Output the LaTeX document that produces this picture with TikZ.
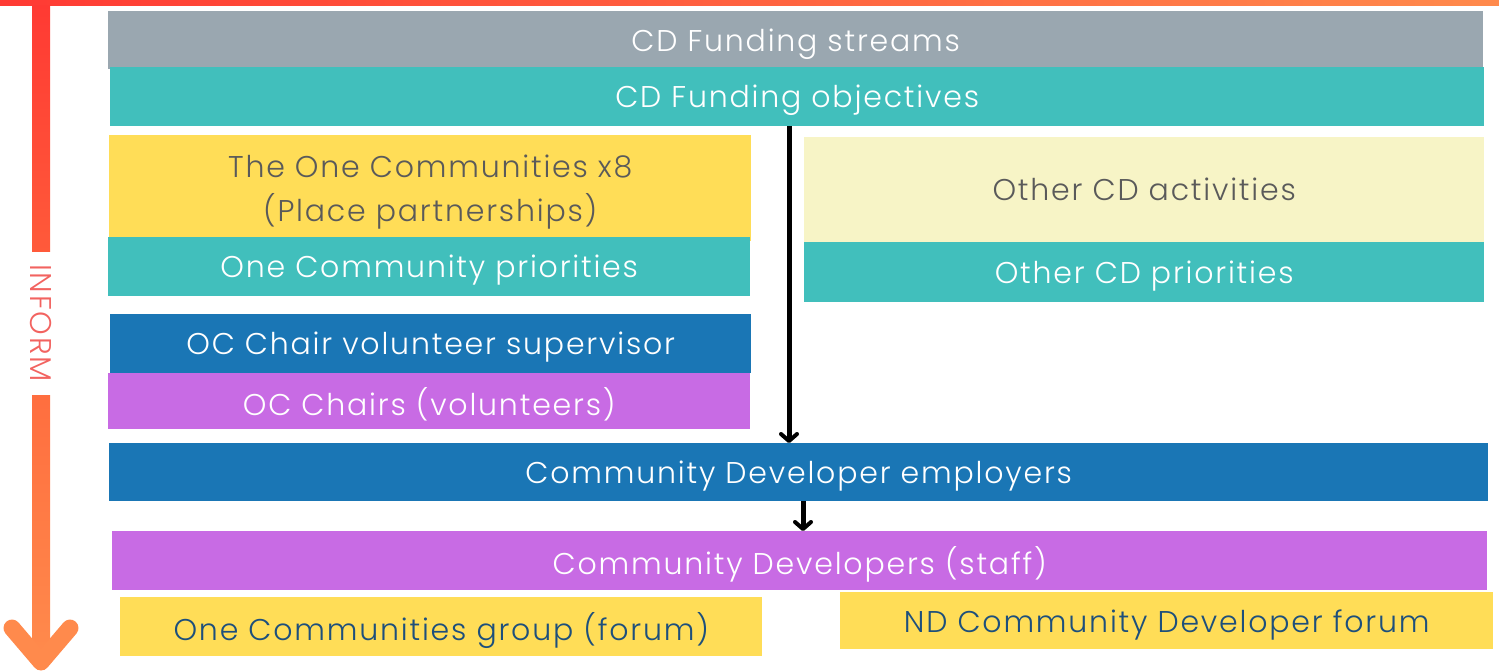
\documentclass[tikz,border=0pt]{standalone}
\usepackage{fontspec}
\newfontfamily\quick{Poppins Light}[LetterSpace=6]
\usetikzlibrary{arrows.meta,positioning}
\definecolor{bandgray}{HTML}{9AA7B0}
\definecolor{bandteal}{HTML}{41BFBC}
\definecolor{bandyellow}{HTML}{FFDD57}
\definecolor{bandpale}{HTML}{F7F4C6}
\definecolor{bandblue}{HTML}{1A76B5}
\definecolor{bandpurple}{HTML}{C86BE4}
\definecolor{txtgray}{HTML}{5A5A5A}
\definecolor{txtblue}{HTML}{1D4F7C}
\definecolor{informred}{HTML}{FF3A33}
\definecolor{informmid}{HTML}{FF5A3A}
\definecolor{informlow}{HTML}{FF6E3F}
\definecolor{informorange}{HTML}{FF8A4C}
\definecolor{informtext}{HTML}{F26360}
\tikzset{
  band/.style={anchor=north west,inner sep=0pt,align=center,font=\quick\fontsize{30}{40}\selectfont,text=white,text depth=0pt},
  flow/.style={line width=5pt,-{Straight Barb[round,length=7pt,width=16pt,line width=4pt]}}
}
\begin{document}
\begin{tikzpicture}[x=1pt,y=-1pt]
    \useasboundingbox (0,0) rectangle (1499,670);
    % inform bar
    \shade[left color=informred,right color=informorange] (0,0) rectangle (1499,5);
    \shade[top color=informred,bottom color=informmid] (32,5) rectangle (50,251);
    \shade[top color=informlow,bottom color=informorange] (32,395) rectangle (50,655);
    \draw[informorange,line width=17pt,line cap=round,line join=round] (12,628) -- (41,662) -- (70,628);
    \node[rotate=-90,text=informtext,inner sep=0pt,font=\quick\fontsize{30}{30}\selectfont] (inform) at (41,323) {INFORM};
    % funding
    \node[band,fill=bandgray,minimum width=1375pt,minimum height=58pt] (streams) at (108,11) {CD Funding streams};
    \node[band,fill=bandteal,minimum width=1374pt,minimum height=59pt] (objectives) at (110,67) {CD Funding objectives};
    % one communities
    \node[band,fill=bandyellow,text=txtgray,minimum width=642pt,minimum height=106pt] (places) at (109,135) {The One Communities x8\\[4pt](Place partnerships)};
    \node[band,fill=bandteal,minimum width=642pt,minimum height=59pt] (ocprio) at (108,237) {One Community priorities};
    \node[band,fill=bandblue,minimum width=641pt,minimum height=59pt] (supervisor) at (110,314) {OC Chair volunteer supervisor};
    \node[band,fill=bandpurple,minimum width=642pt,minimum height=56pt] (chairs) at (108,373) {OC Chairs (volunteers)};
    % other activities
    \node[band,fill=bandpale,text=txtgray,minimum width=680pt,minimum height=105pt] (other) at (804,137) {Other CD activities};
    \node[band,fill=bandteal,minimum width=680pt,minimum height=60pt] (otherprio) at (804,242) {Other CD priorities};
    % developers
    \node[band,fill=bandblue,minimum width=1379pt,minimum height=58pt] (employers) at (109,443) {Community Developer employers};
    \node[band,fill=bandpurple,minimum width=1375pt,minimum height=59pt] (developers) at (112,531) {Community Developers (staff)};
    \node[band,fill=bandyellow,text=txtblue,minimum width=642pt,minimum height=59pt] (ocgroup) at (120,597) {One Communities group (forum)};
    \node[band,fill=bandyellow,text=txtblue,minimum width=653pt,minimum height=57pt] (ndforum) at (840,592) {ND Community Developer forum};
    % arrows
    \coordinate (tap1) at (789,0);
    \coordinate (tap2) at (803,0);
    \draw[flow] (objectives.south -| tap1) -- (employers.north -| tap1);
    \draw[flow] (employers.south -| tap2) -- (developers.north -| tap2);
\end{tikzpicture}
\end{document}
